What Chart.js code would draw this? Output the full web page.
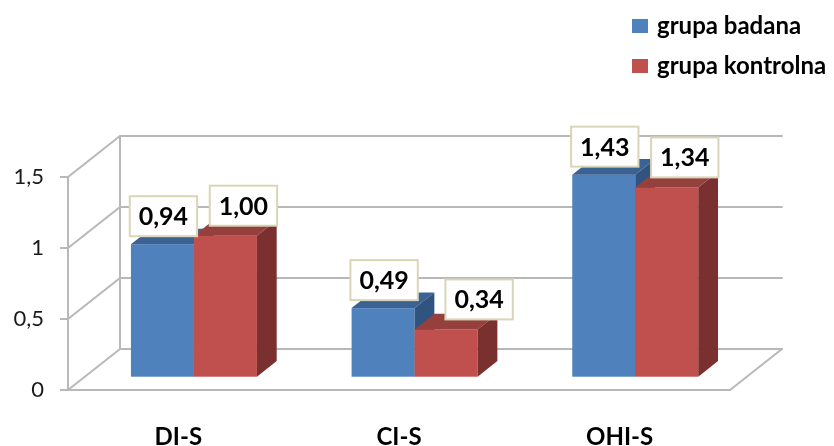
<!DOCTYPE html>
<html>
<head>
<meta charset="utf-8">
<script src="https://cdn.jsdelivr.net/npm/chart.js@4/dist/chart.umd.min.js"></script>
<style>
  html, body { margin: 0; padding: 0; background: #ffffff; }
  #wrap { width: 834px; height: 446px; position: relative; }
</style>
</head>
<body>
<div id="wrap"><canvas id="chart" width="834" height="446"></canvas></div>
<script>
// Wskaźniki higieny jamy ustnej: grupa badana vs grupa kontrolna
const categories = ['DI-S', 'CI-S', 'OHI-S'];
const seriesNames = ['grupa badana', 'grupa kontrolna'];
const grupaBadana = [0.94, 0.49, 1.43];
const grupaKontrolna = [1.00, 0.34, 1.34];
const yTickValues = [0, 0.5, 1, 1.5];

const FONT = 'Lato, "Open Sans", "Liberation Sans", sans-serif';

// Face colours for the 3D boxes: front, top, side
const palette = [
  { front: '#4f81bd', top: '#3a6293', side: '#30547f' },
  { front: '#c0504d', top: '#95403d', side: '#7a302e' }
];

// Depth of the plot box (offset from front plane to back wall)
const DEPTH = { dx: 52, dy: -41 };
// Bars stand in the middle of the floor
const BAR_FRONT = 0.3;
const BAR_DEPTH = 0.38;
const GRID_COLOR = '#b8b8b8';

// Horizontal nudge for the value boxes of the second series
const labelShift = [[1, 1, 1], [18, 33, 18]];

function fmt(v, digits) {
  return v.toFixed(digits).replace('.', ',');
}

const wallsAndBars = {
  id: 'wallsAndBars',
  beforeDatasetsDraw(chart) {
    const ctx = chart.ctx;
    const ys = chart.scales.y;
    const left = chart.chartArea.left;
    const right = chart.chartArea.right;
    const bottom = ys.getPixelForValue(0);

    ctx.save();
    ctx.strokeStyle = GRID_COLOR;
    ctx.lineWidth = 2;
    ctx.lineCap = 'round';

    // back wall gridlines + left wall diagonals
    yTickValues.forEach(v => {
      const y = ys.getPixelForValue(v);
      ctx.beginPath();
      ctx.moveTo(left, y);
      ctx.lineTo(left + DEPTH.dx, y + DEPTH.dy);
      ctx.lineTo(right + DEPTH.dx, y + DEPTH.dy);
      ctx.stroke();
    });
    // back wall left edge
    const yTop = ys.getPixelForValue(yTickValues[yTickValues.length - 1]);
    ctx.beginPath();
    ctx.moveTo(left + DEPTH.dx, yTop + DEPTH.dy);
    ctx.lineTo(left + DEPTH.dx, bottom + DEPTH.dy);
    ctx.stroke();
    // floor right edge
    ctx.beginPath();
    ctx.moveTo(right, bottom);
    ctx.lineTo(right + DEPTH.dx, bottom + DEPTH.dy);
    ctx.stroke();

    // 3D bars, drawn category by category so nearer faces cover farther ones
    const fx = DEPTH.dx * BAR_FRONT, fy = DEPTH.dy * BAR_FRONT;
    const sx = DEPTH.dx * BAR_DEPTH, sy = DEPTH.dy * BAR_DEPTH;
    const metas = chart.data.datasets.map((d, i) => chart.getDatasetMeta(i));
    categories.forEach((c, ci) => {
      metas.forEach((meta, di) => {
        const bar = meta.data[ci];
        const p = bar.getProps(['x', 'y', 'base', 'width'], true);
        const x0 = p.x - p.width / 2 + fx;
        const x1 = p.x + p.width / 2 + fx;
        const yt = p.y + fy;
        const yb = p.base + fy;
        const col = palette[di];
        // front face
        ctx.fillStyle = col.front;
        ctx.fillRect(x0, yt, x1 - x0, yb - yt);
        // top face
        ctx.fillStyle = col.top;
        ctx.beginPath();
        ctx.moveTo(x0, yt);
        ctx.lineTo(x1, yt);
        ctx.lineTo(x1 + sx, yt + sy);
        ctx.lineTo(x0 + sx, yt + sy);
        ctx.closePath();
        ctx.fill();
        // side face
        ctx.fillStyle = col.side;
        ctx.beginPath();
        ctx.moveTo(x1, yt);
        ctx.lineTo(x1 + sx, yt + sy);
        ctx.lineTo(x1 + sx, yb + sy);
        ctx.lineTo(x1, yb);
        ctx.closePath();
        ctx.fill();
      });
    });
    ctx.restore();
    return false;
  },
  afterDraw(chart) {
    const ctx = chart.ctx;
    const fx = DEPTH.dx * BAR_FRONT, fy = DEPTH.dy * BAR_FRONT;
    ctx.save();
    // value boxes
    ctx.font = 'bold 25px ' + FONT;
    ctx.textAlign = 'center';
    ctx.textBaseline = 'middle';
    chart.data.datasets.forEach((ds, di) => {
      const meta = chart.getDatasetMeta(di);
      meta.data.forEach((bar, ci) => {
        const p = bar.getProps(['x', 'y'], true);
        const text = fmt(ds.data[ci], 2);
        const w = ctx.measureText(text).width + 18;
        const h = 40;
        const cx = p.x + fx + labelShift[di][ci];
        const by = p.y + fy - (di === 0 ? 8 : 10);
        ctx.fillStyle = '#ffffff';
        ctx.fillRect(cx - w / 2, by - h, w, h);
        ctx.strokeStyle = '#d9d5b7';
        ctx.lineWidth = 2;
        ctx.strokeRect(cx - w / 2, by - h, w, h);
        ctx.fillStyle = '#000000';
        ctx.fillText(text, cx, by - h / 2 + 1);
      });
    });
    // legend
    ctx.textAlign = 'left';
    ctx.font = 'bold 24px ' + FONT;
    chart.data.datasets.forEach((ds, di) => {
      const cy = 26 + di * 40;
      ctx.fillStyle = palette[di].front;
      ctx.fillRect(632, cy - 7, 16, 14);
      ctx.fillStyle = '#000000';
      ctx.fillText(ds.label, 657, cy);
    });
    ctx.restore();
  }
};

new Chart(document.getElementById('chart'), {
  type: 'bar',
  data: {
    labels: categories,
    datasets: [
      { label: seriesNames[0], data: grupaBadana, backgroundColor: palette[0].front },
      { label: seriesNames[1], data: grupaKontrolna, backgroundColor: palette[1].front }
    ]
  },
  options: {
    responsive: false,
    animation: false,
    devicePixelRatio: 1,
    layout: { padding: { top: 177, right: 104, bottom: 0, left: 0 } },
    datasets: { bar: { barPercentage: 1, categoryPercentage: 0.571 } },
    plugins: { legend: { display: false }, tooltip: { enabled: false } },
    scales: {
      x: {
        grid: { display: false, drawTicks: false },
        border: { display: true, color: GRID_COLOR, width: 2 },
        ticks: { color: '#000000', font: { family: FONT, size: 24, weight: 'bold' }, padding: 33 },
        afterFit(scale) { scale.height = 56; }
      },
      y: {
        min: 0,
        max: 1.5,
        afterBuildTicks(scale) { scale.ticks = yTickValues.map(v => ({ value: v })); },
        grid: { display: true, drawOnChartArea: false, drawTicks: true, tickLength: 8, color: GRID_COLOR, lineWidth: 2 },
        border: { display: true, color: GRID_COLOR, width: 2 },
        ticks: {
          color: '#1a1a1a',
          font: { family: FONT, size: 22 },
          padding: 16,
          callback: v => String(v).replace('.', ',')
        },
        afterFit(scale) { scale.width = 68; }
      }
    }
  },
  plugins: [wallsAndBars]
});
</script>
</body>
</html>
